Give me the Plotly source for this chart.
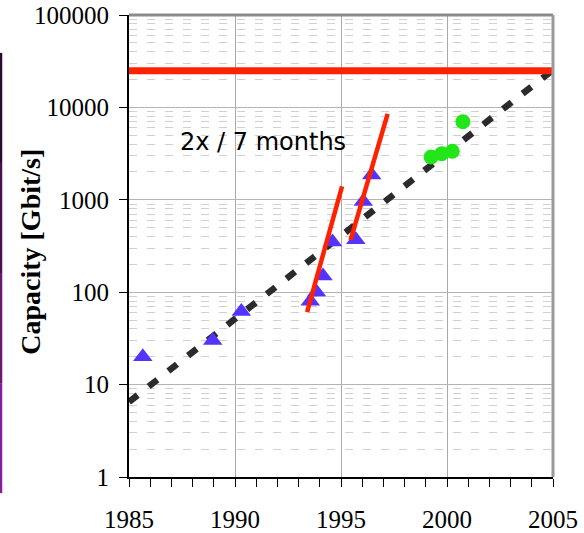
import math
import plotly.graph_objects as go

# ---- data ----
tri_years = [1985.65, 1988.95, 1990.3, 1993.55, 1993.85, 1994.15, 1994.6, 1995.7, 1996.05, 1996.45]
tri_vals = [20, 30, 62, 80, 100, 150, 350, 370, 960, 1850]

circ_years = [1999.25, 1999.75, 2000.25, 2000.75]
circ_vals = [2900, 3150, 3350, 7000]

trend_years = [1985, 2005]
trend_vals = [6.5, 25500]

red1_years = [1993.4, 1995.05]
red1_vals = [61, 1400]
red2_years = [1995.45, 1997.2]
red2_vals = [365, 8500]

limit_years = [1985, 2005]
limit_vals = [25000, 25000]

x_ticks = [1985, 1990, 1995, 2000, 2005]
y_ticks = [1, 10, 100, 1000, 10000, 100000]
y_ticktext = ["1", "10", "100", "1000", "10000", "100000"]

label_text = "2x / 7 months"
label_pos = (1991.3, 4200)
y_title = "Capacity [Gbit/s]"

serif = "Liberation Serif"

fig = go.Figure()
fig.add_trace(go.Scatter(x=trend_years, y=trend_vals, mode="lines",
                         line=dict(color="#2b2b2b", width=6.5, dash="11px,14px")))
fig.add_trace(go.Scatter(x=tri_years, y=tri_vals, mode="markers",
                         marker=dict(symbol="triangle-up", size=17, color="#5533ff")))
fig.add_trace(go.Scatter(x=circ_years, y=circ_vals, mode="markers",
                         marker=dict(symbol="circle", size=15, color="#22e61a")))
for xs, ys in [(red1_years, red1_vals), (red2_years, red2_vals)]:
    fig.add_trace(go.Scatter(x=xs, y=ys, mode="lines",
                             line=dict(color="#ff2200", width=4.5)))
fig.add_trace(go.Scatter(x=limit_years, y=limit_vals, mode="lines",
                         line=dict(color="#ff2200", width=7)))

fig.add_annotation(x=label_pos[0], y=math.log10(label_pos[1]),
                   text=label_text, showarrow=False,
                   font=dict(family="DejaVu Sans", size=24, color="black"))

fig.add_annotation(xref="paper", yref="paper", x=-0.234, y=0.487,
                   text="<b>" + y_title + "</b>", textangle=-90, showarrow=False,
                   xanchor="center", yanchor="middle",
                   font=dict(family=serif, size=28, color="black"))

fig.update_layout(
    width=584, height=533,
    margin=dict(l=129, r=31, t=15, b=56),
    paper_bgcolor="white", plot_bgcolor="white",
    showlegend=False,
    xaxis=dict(range=[1985, 2005], tickvals=x_ticks, ticks="outside", ticklen=8,
               tickcolor="black", showline=True, linecolor="black", linewidth=2,
               showgrid=True, gridcolor="#aaaaaa", gridwidth=1, zeroline=False,
               tickfont=dict(family=serif, size=25, color="black"),
               ticklabelstandoff=11, automargin=False,
               minor=dict(dtick=1, ticks="outside", ticklen=8, tickcolor="black", showgrid=False)),
    yaxis=dict(type="log", range=[0, 5], tickvals=y_ticks, ticktext=y_ticktext,
               ticks="outside", ticklen=8, tickcolor="black",
               showline=True, linecolor="black", linewidth=2,
               showgrid=True, gridcolor="#b4b4b4", gridwidth=1, zeroline=False,
               tickfont=dict(family=serif, size=25, color="black"),
               ticklabelstandoff=5, automargin=False,
               minor=dict(dtick="D1", ticks="", showgrid=True, gridcolor="#d0d0d0",
                          griddash="8px,10px", gridwidth=1)),
)

# top / right frame (gray)
fig.add_shape(type="line", xref="paper", yref="paper", x0=0, x1=1, y0=1, y1=1,
              line=dict(color="#8c8c8c", width=3))
fig.add_shape(type="line", xref="paper", yref="paper", x0=1, x1=1, y0=0, y1=1,
              line=dict(color="#9a9a9a", width=3))

# purple slide bar on the far left
segs = ["#2a0a30", "#4a1050", "#6a1870", "#86209a"]
y_top, y_bot = 0.918, -0.035
n = len(segs)
for i, c in enumerate(segs):
    a = y_top + (y_bot - y_top) * i / n
    b = y_top + (y_bot - y_top) * (i + 1) / n
    fig.add_shape(type="line", xref="paper", yref="paper", x0=-0.3025, x1=-0.3025,
                  y0=a, y1=b, line=dict(color=c, width=3))

fig.write_html("out.html", config={"displayModeBar": False},
               post_script="document.body.style.margin='0';document.body.style.overflow='hidden';")
